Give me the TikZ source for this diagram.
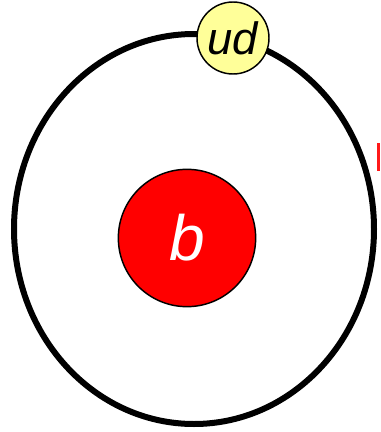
\documentclass[tikz,border=0pt]{standalone}
\usepackage{fontspec}
\setmainfont{Liberation Sans}
\usepackage{tikz}
\usetikzlibrary{positioning}
\definecolor{quarkyellow}{HTML}{FFFF99}
\definecolor{bred}{HTML}{FF0000}
\tikzset{
  orbitline/.style={draw=black, line width=4.5pt},
  quarkball/.style={circle, draw=black, fill=quarkyellow, line width=1.1pt,
                    inner sep=0pt, minimum size=54pt, font=\itshape\fontsize{34}{34}\selectfont},
  nucball/.style={circle, draw=black, fill=bred, line width=1.1pt, text=white,
                  inner sep=0pt, minimum size=103pt, font=\itshape\fontsize{48}{48}\selectfont},
}
\begin{document}
\begin{tikzpicture}[x=0.75pt,y=-0.75pt]
\useasboundingbox (0,0) rectangle (380,432);
% orbit of the light diquark
\draw[orbitline] (194,229) ellipse [x radius=180, y radius=195];
\node[nucball] (b) at (187,238) {b};
\node[quarkball] (ud) at (233,38) {ud};
% clipped mark at the right edge
\fill[bred!90] (377,143) rectangle (380,171);
\end{tikzpicture}
\end{document}
